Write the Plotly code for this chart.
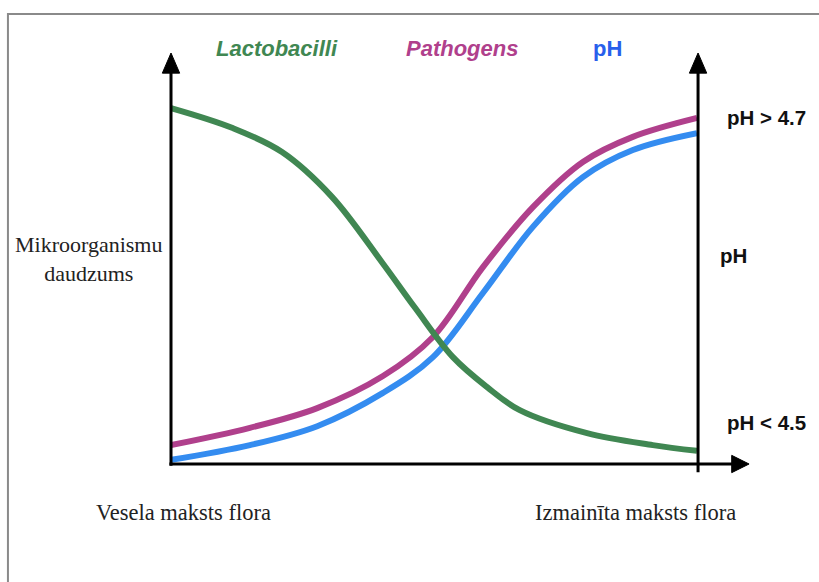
import plotly.graph_objects as go

# ---- data (x: 0..100 along the horizontal axis, y: 0..100 up the vertical axis)
x_lacto = [0, 11.6, 21.1, 30.6, 40.1, 46.4, 53.6, 60.1, 66.3, 79.1, 91.6, 100]
y_lacto = [86.6, 81.8, 75.9, 65.0, 49.1, 38.0, 26.0, 18.7, 13.1, 7.5, 4.6, 3.2]

x_patho = [0, 15.0, 27.8, 40.3, 49.8, 59.3, 68.8, 78.3, 87.8, 100]
y_patho = [4.6, 8.8, 13.6, 21.4, 30.9, 47.9, 62.5, 73.5, 79.6, 84.2]

x_ph = [0, 15.0, 27.8, 40.3, 49.8, 59.3, 68.8, 78.3, 87.8, 100]
y_ph = [1.0, 4.6, 9.2, 17.3, 26.0, 41.6, 57.7, 69.8, 76.4, 80.5]

series_names = ["Lactobacilli", "Pathogens", "pH"]
left_label = "Mikroorganismu<br>daudzums"
bottom_labels = ["Vesela maksts flora", "Izmainīta maksts flora"]
right_labels = ["pH &gt; 4.7", "pH", "pH &lt; 4.5"]

GREEN = "rgb(64,135,82)"
PINK = "rgb(176,64,140)"
BLUE = "rgb(52,140,240)"

fig = go.Figure()
fig.add_trace(go.Scatter(x=x_ph, y=y_ph, mode="lines", name="pH",
                         line=dict(color=BLUE, width=6, shape="spline", smoothing=1.0)))
fig.add_trace(go.Scatter(x=x_patho, y=y_patho, mode="lines", name="Pathogens",
                         line=dict(color=PINK, width=6, shape="spline", smoothing=1.0)))
fig.add_trace(go.Scatter(x=x_lacto, y=y_lacto, mode="lines", name="Lactobacilli",
                         line=dict(color=GREEN, width=6, shape="spline", smoothing=1.0)))

shapes = []
# outer frame
shapes.append(dict(type="rect", xref="paper", yref="paper", x0=-0.31, x1=1.26, y0=-0.34, y1=1.095,
                   line=dict(color="#8a8a8a", width=2), fillcolor="rgba(0,0,0,0)", layer="below"))
# left axis
shapes.append(dict(type="line", xref="paper", yref="paper", x0=0, x1=0, y0=-0.004, y1=0.96,
                   line=dict(color="black", width=3)))
shapes.append(dict(type="path", xref="paper", yref="paper",
                   path="M -0.0165 0.951 L 0.0165 0.951 L 0 1.0 Z", fillcolor="black", line=dict(color="black", width=1)))
# right axis
shapes.append(dict(type="line", xref="paper", yref="paper", x0=1.002, x1=1.002, y0=-0.02, y1=0.96,
                   line=dict(color="black", width=3)))
shapes.append(dict(type="path", xref="paper", yref="paper",
                   path="M 0.9855 0.951 L 1.0185 0.951 L 1.002 1.0 Z", fillcolor="black", line=dict(color="black", width=1)))
# x axis
shapes.append(dict(type="line", xref="paper", yref="paper", x0=-0.003, x1=1.075, y0=0, y1=0,
                   line=dict(color="black", width=3)))
shapes.append(dict(type="path", xref="paper", yref="paper",
                   path="M 1.066 0.021 L 1.066 -0.021 L 1.099 0 Z", fillcolor="black", line=dict(color="black", width=1)))

annotations = []
title_styles = ["italic", "italic", "normal"]
for name, xp, col, st in zip(series_names, [0.2015, 0.553, 0.829],
                             [GREEN, PINK, "rgb(40,95,235)"], title_styles):
    annotations.append(dict(text=name, xref="paper", yref="paper", x=xp, y=1.012,
                            xanchor="center", yanchor="middle", showarrow=False,
                            font=dict(family="Liberation Sans, Arial, sans-serif", size=22,
                                      weight="bold", style=st, color=col)))

serif_left = dict(family="Liberation Serif, Times New Roman, serif", size=22, color="#222")
serif_bottom = dict(family="Liberation Serif, Times New Roman, serif", size=22.5, color="#222")
annotations.append(dict(text=left_label, xref="paper", yref="paper", x=-0.156, y=0.4976,
                        xanchor="center", yanchor="middle", showarrow=False, font=serif_left, align="center"))
annotations.append(dict(text=bottom_labels[0], xref="paper", yref="paper", x=0.0247, y=-0.1168,
                        xanchor="center", yanchor="middle", showarrow=False, font=serif_bottom))
annotations.append(dict(text=bottom_labels[1], xref="paper", yref="paper", x=0.884, y=-0.1168,
                        xanchor="center", yanchor="middle", showarrow=False, font=serif_bottom))

rfont = dict(family="Liberation Sans, Arial, sans-serif", size=20.5, weight="bold", color="#111")
for txt, xp, yp in zip(right_labels, [1.053, 1.040, 1.053], [0.844, 0.5085, 0.102]):
    annotations.append(dict(text=txt, xref="paper", yref="paper", x=xp, y=yp,
                            xanchor="left", yanchor="middle", showarrow=False, font=rfont))

fig.update_layout(
    width=819, height=582,
    margin=dict(l=171, r=122, t=53, b=118),
    paper_bgcolor="white", plot_bgcolor="white",
    showlegend=False,
    xaxis=dict(range=[0, 100], visible=False, fixedrange=True),
    yaxis=dict(range=[0, 100], visible=False, fixedrange=True),
    shapes=shapes, annotations=annotations,
)

fig.write_html("out.html",
               config={"displayModeBar": False, "staticPlot": True},
               post_script="document.body.style.margin='0';document.body.style.overflow='hidden';")
